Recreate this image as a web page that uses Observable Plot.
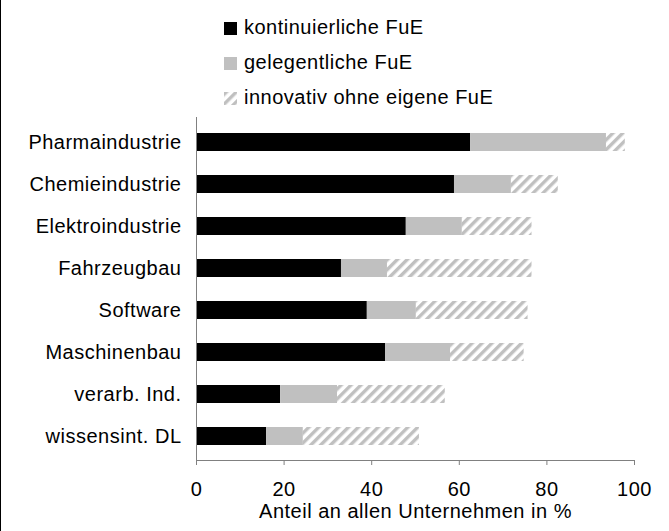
<!DOCTYPE html>
<html>
<head>
<meta charset="utf-8">
<script src="https://cdn.jsdelivr.net/npm/d3@7"></script>
<script src="https://cdn.jsdelivr.net/npm/@observablehq/plot@0.6"></script>
<style>
  html, body { margin: 0; padding: 0; background: #fff; }
  #wrap { position: relative; width: 669px; height: 531px; overflow: hidden; font-family: "Liberation Sans", Arial, sans-serif; }
  #border { position: absolute; left: 0; top: 0; width: 1px; height: 531px; background: #000; }
  #legend { position: relative; height: 110px; }
  .item { position: absolute; left: 224px; height: 20px; line-height: 20px; font-size: 20px; letter-spacing: 0.5px; color: #000; white-space: nowrap; }
  .item svg { position: absolute; left: 0; }
  .item span { position: absolute; left: 20px; top: 0; }
  #chart svg { display: block; }
</style>
</head>
<body>
<div id="wrap">
  <div id="legend"></div>
  <div id="chart"></div>
  <div id="border"></div>
</div>
<script>
const categories = ["Pharmaindustrie", "Chemieindustrie", "Elektroindustrie", "Fahrzeugbau", "Software", "Maschinenbau", "verarb. Ind.", "wissensint. DL"];
const series = ["kontinuierliche FuE", "gelegentliche FuE", "innovativ ohne eigene FuE"];
const kontinuierlich = [62.6, 58.9, 47.9, 33.1, 39.0, 43.2, 19.2, 16.0];
const gelegentlich = [31.0, 13.0, 12.8, 10.5, 11.2, 14.8, 13.0, 8.4];
const ohneFuE = [4.3, 10.7, 15.9, 33.0, 25.5, 16.8, 24.6, 26.5];
const xTicks = [0, 20, 40, 60, 80, 100];
const xLabel = "Anteil an allen Unternehmen in %";

const seriesValues = [kontinuierlich, gelegentlich, ohneFuE];
const fills = ["#000000", "#c0c0c0", "url(#hatch)"];

const table = [];
categories.forEach((c, i) => {
  series.forEach((s, j) => table.push({category: c, series: s, value: seriesValues[j][i]}));
});

const plot = Plot.plot({
  width: 669,
  height: 421,
  marginLeft: 196,
  marginRight: 35,
  marginTop: 7,
  marginBottom: 71,
  style: {fontFamily: "'Liberation Sans', Arial, sans-serif", fontSize: "20px", letterSpacing: "0.5px", color: "#000", background: "#fff", overflow: "visible"},
  x: {domain: [0, 100], ticks: xTicks, label: null},
  y: {domain: categories, paddingInner: 0.58, paddingOuter: 0.29, label: null},
  color: {domain: series, range: fills},
  marks: [
    Plot.barX(table, Plot.stackX({y: "category", x: "value", fill: "series"})),
    Plot.frame({anchor: "left", stroke: "#808080"}),
    Plot.frame({anchor: "bottom", stroke: "#808080"}),
    Plot.axisX({tickSize: 5, tickPadding: 16, stroke: "#808080", label: null}),
    Plot.axisY({tickSize: 0, tickPadding: 15, label: null}),
    Plot.text([xLabel], {text: d => d, frameAnchor: "bottom", dy: 51, lineAnchor: "middle"})
  ]
});

const patternDef = '<pattern id="hatch" patternUnits="userSpaceOnUse" width="7" height="7" patternTransform="rotate(45)">' +
  '<rect width="7" height="7" fill="#ffffff"></rect><rect x="0" y="0" width="3.4" height="7" fill="#c0c0c0"></rect></pattern>';
d3.select(plot).insert("defs", ":first-child").html(patternDef);
document.getElementById("chart").appendChild(plot);

// legend
const legendTops = [17, 52, 87];
const legend = document.getElementById("legend");
series.forEach((s, j) => {
  const item = document.createElement("div");
  item.className = "item";
  item.style.top = legendTops[j] + "px";
  let icon;
  if (j < 2) {
    icon = `<svg width="13" height="13" style="top:5px"><rect width="13" height="13" fill="${fills[j]}"></rect></svg>`;
  } else {
    icon = `<svg width="13" height="13" style="top:5px"><defs><pattern id="hatchL" patternUnits="userSpaceOnUse" width="7" height="7" patternTransform="rotate(45)"><rect width="7" height="7" fill="#fff"></rect><rect width="3.4" height="7" fill="#c0c0c0"></rect></pattern></defs><rect width="13" height="13" fill="url(#hatchL)"></rect></svg>`;
  }
  item.innerHTML = icon + `<span>${s}</span>`;
  legend.appendChild(item);
});
</script>
</body>
</html>
